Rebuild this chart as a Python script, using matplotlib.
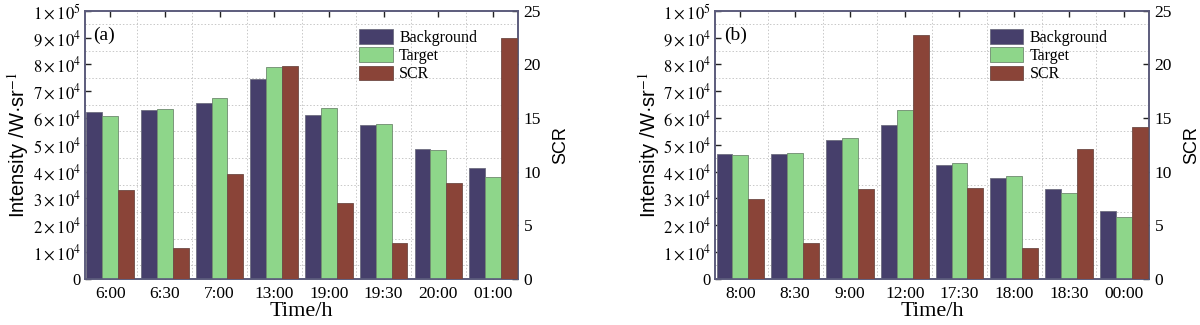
import matplotlib.pyplot as plt
import numpy as np
from matplotlib.ticker import FuncFormatter, MultipleLocator

plt.rcParams['font.family'] = 'Liberation Serif'
plt.rcParams['mathtext.fontset'] = 'stix'

# panel (a)
times_a = ['6:00', '6:30', '7:00', '13:00', '19:00', '19:30', '20:00', '01:00']
background_a = [62100, 63100, 65700, 74500, 61300, 57500, 48400, 41500]
target_a = [60800, 63400, 67500, 79200, 63800, 57900, 48200, 37900]
scr_a = [8.3, 2.85, 9.75, 19.9, 7.1, 3.35, 8.9, 22.5]

# panel (b)
times_b = ['8:00', '8:30', '9:00', '12:00', '17:30', '18:00', '18:30', '00:00']
background_b = [46700, 46700, 51900, 57500, 42500, 37700, 33600, 25300]
target_b = [46100, 47000, 52700, 63100, 43200, 38200, 32100, 23200]
scr_b = [7.45, 3.35, 8.4, 22.75, 8.5, 2.9, 12.15, 14.15]

c_bg = '#463f6b'
c_tg = '#8ed68a'
c_scr = '#8a4438'
spine_c = '#5c5c7c'


def sci_fmt(v, pos):
    if v <= 0:
        return '0'
    e = int(np.floor(np.log10(v) + 1e-9))
    m = int(round(v / 10 ** e))
    return r'$%d\times10^{%d}$' % (m, e)


def panel(fig, rect, times, bg, tg, scr, tag):
    ax = fig.add_axes(rect)
    ax2 = ax.twinx()
    x = np.arange(len(times))
    w = 0.29
    b1 = ax.bar(x - w, bg, w, color=c_bg, edgecolor='#6e6e80', linewidth=0.6, zorder=3)
    b2 = ax.bar(x, tg, w, color=c_tg, edgecolor='#6e8a6e', linewidth=0.6, zorder=3)
    b3 = ax2.bar(x + w, scr, w, color=c_scr, edgecolor='#6e4a44', linewidth=0.6, zorder=3)

    ax.set_xlim(-0.46, 7.46)
    ax.set_ylim(0, 100000)
    ax2.set_ylim(0, 25)
    ax.set_xticks(x)
    ax.set_xticklabels(times, fontsize=12.5)
    ax.yaxis.set_major_locator(MultipleLocator(10000))
    ax.yaxis.set_major_formatter(FuncFormatter(sci_fmt))
    ax2.yaxis.set_major_locator(MultipleLocator(5))

    # dotted grid between groups and between ticks
    for gx in np.arange(0.5, 7.5, 1.0):
        ax.axvline(gx, color='#c8c8c8', lw=0.7, ls=(0, (1.5, 2)), zorder=0)
    for gy in np.arange(5000, 100000, 10000):
        ax.axhline(gy, color='#c8c8c8', lw=0.7, ls=(0, (1.5, 2)), zorder=0)

    ax.tick_params(axis='both', direction='in', length=4, width=1, color='#222222',
                   top=True, pad=5)
    ax.tick_params(axis='x', labelsize=12.5)
    ax.tick_params(axis='y', labelsize=12, pad=3)
    ax2.tick_params(axis='y', direction='in', length=4, width=1, color='#222222',
                    labelsize=12.5, pad=4)
    for a in (ax, ax2):
        for s in a.spines.values():
            s.set_color(spine_c)
            s.set_linewidth(1.2)

    ax.set_ylabel('Intensity /W·sr$^{-1}$', family='Liberation Sans', fontsize=14.5, labelpad=1)
    ax2.set_ylabel('SCR', family='Liberation Sans', fontsize=13, labelpad=8)
    ax.set_xlabel('Time/h', fontsize=16, labelpad=0)
    ax.text(0.02, 0.94, tag, transform=ax.transAxes, fontsize=14, va='top', ha='left')

    ax.legend([b1, b2, b3], ['Background', 'Target', 'SCR'], loc='upper left',
              bbox_to_anchor=(0.6, 0.985), frameon=False,
              handlelength=2.1, handleheight=1.05, labelspacing=0.08,
              handletextpad=0.4, prop={'size': 11.5})
    return ax, ax2


fig = plt.figure(figsize=(12, 3.25), dpi=100)
panel(fig, [0.0708, 0.1425, 0.361, 0.824], times_a, background_a, target_a, scr_a, '(a)')
panel(fig, [0.596, 0.1425, 0.3615, 0.824], times_b, background_b, target_b, scr_b, '(b)')

fig.savefig('out.png', dpi=100)
